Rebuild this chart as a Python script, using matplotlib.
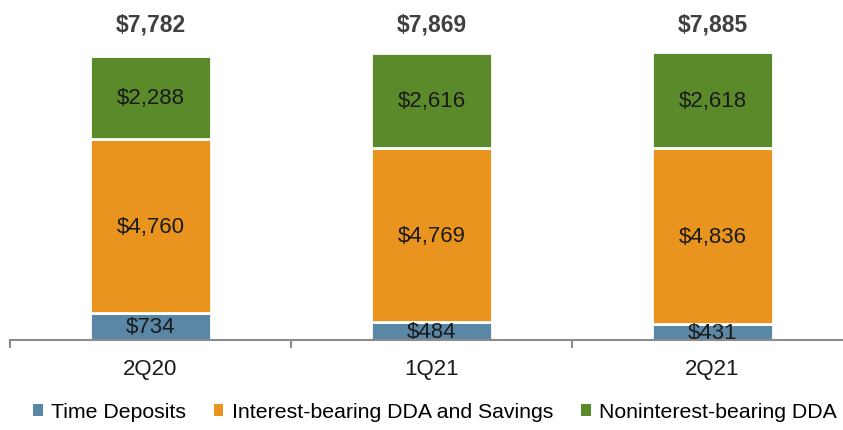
import matplotlib.pyplot as plt
import numpy as np

plt.rcParams['font.family'] = ['Liberation Sans', 'DejaVu Sans']

quarters = ['2Q20', '1Q21', '2Q21']
time_dep = [734, 484, 431]
int_bearing = [4760, 4769, 4836]
nonint_bearing = [2288, 2616, 2618]
totals = [7782, 7869, 7885]

series = [
    ('Time Deposits', time_dep, '#5b87a6'),
    ('Interest-bearing DDA and Savings', int_bearing, '#e8941f'),
    ('Noninterest-bearing DDA', nonint_bearing, '#5b8a2b'),
]

fig = plt.figure(figsize=(8.43, 4.31), dpi=100)
ax = fig.add_axes([10 / 843, 90 / 431, 843 / 843, 341 / 431])

x = np.arange(len(quarters))
bottom = np.zeros(len(quarters))
for name, vals, col in series:
    ax.bar(x, vals, width=0.43, bottom=bottom, color=col, edgecolor='white',
           linewidth=2, label=name)
    for xi, b, v in zip(x, bottom, vals):
        ax.text(xi, b + v / 2, '${:,}'.format(v), ha='center', va='center',
                fontsize=16, color='#1a1a1a')
    bottom += np.array(vals)

for xi, t in zip(x, totals):
    ax.text(xi, 341 / 0.036495 - 25 / 0.036495, '${:,}'.format(t), ha='center',
            va='center', fontsize=16.5, fontweight='bold', color='#404040')

ax.set_xlim(-0.5, 2.5)
ax.set_ylim(0, 341 / 0.036495)
for s in ['top', 'right', 'left']:
    ax.spines[s].set_visible(False)
ax.spines['bottom'].set_color('#8c8c8c')
ax.spines['bottom'].set_linewidth(1.5)
ax.spines['bottom'].set_zorder(5)
ax.set_yticks([])
ax.set_xticks(x)
ax.set_xticklabels(quarters, fontsize=16, color='#1a1a1a')
ax.tick_params(axis='x', which='major', length=0, pad=13)
ax.set_xticks([-0.5, 0.5, 1.5, 2.5], minor=True)
ax.tick_params(axis='x', which='minor', length=6, width=1.5, color='#8c8c8c',
               direction='out')

handles, labels = ax.get_legend_handles_labels()
leg = fig.legend(handles, labels, loc='center', bbox_to_anchor=(435 / 843, 1 - 413 / 431),
                 ncol=3, frameon=False, fontsize=15.3, handlelength=0.45,
                 handleheight=0.45, handletextpad=0.4, columnspacing=1.3)
for h in leg.legend_handles:
    h.set_edgecolor('none')

fig.savefig('out.png', dpi=100)
